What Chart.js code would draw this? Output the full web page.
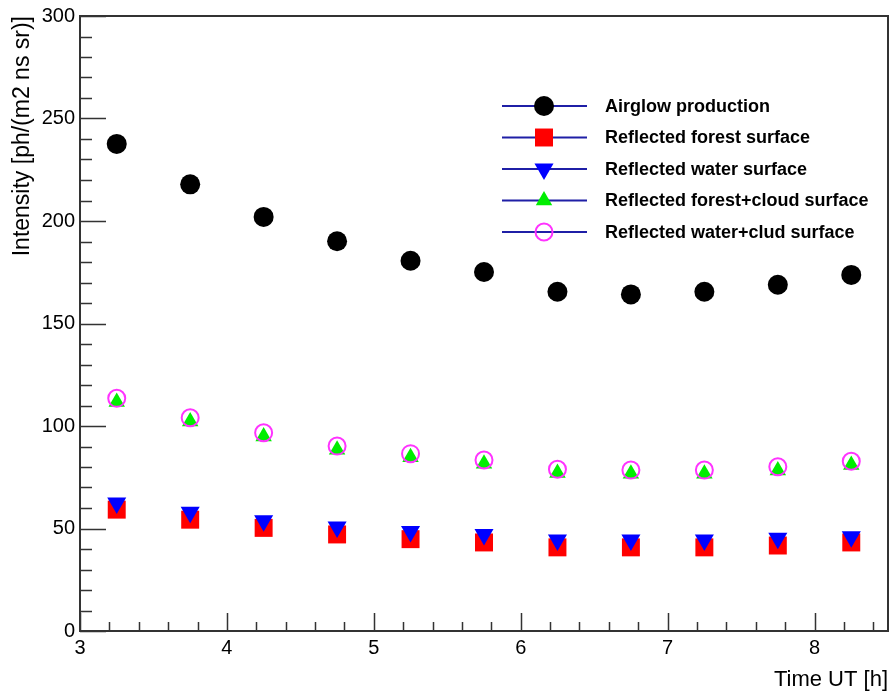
<!DOCTYPE html>
<html>
<head>
<meta charset="utf-8">
<script src="https://cdn.jsdelivr.net/npm/chart.js@4/dist/chart.umd.min.js"></script>
<style>
  html, body { margin: 0; padding: 0; background: #fff; overflow: hidden; }
  canvas { display: block; }
</style>
</head>
<body>
<canvas id="plot" width="893" height="691"></canvas>
<script>
// Data (time in hours UT, intensity in ph/(m2 ns sr))
const timeUT = [3.25, 3.75, 4.25, 4.75, 5.25, 5.75, 6.25, 6.75, 7.25, 7.75, 8.25];
const airglow = [237.6, 217.9, 202.0, 190.1, 180.6, 175.1, 165.5, 164.2, 165.5, 168.9, 173.7];
const forest = [59.2, 54.3, 50.3, 47.1, 44.8, 43.2, 40.8, 40.8, 40.8, 41.7, 43.2];
const water = [62.5, 57.9, 53.8, 50.7, 48.5, 47.1, 44.4, 44.4, 44.4, 45.3, 46.0];
const forestCloud = [111.7, 102.2, 94.9, 88.4, 84.7, 81.6, 77.1, 76.7, 76.7, 78.3, 81.0];
const waterCloud = [113.5, 104.0, 96.7, 90.2, 86.5, 83.4, 78.9, 78.5, 78.5, 80.1, 82.8];

const xTicks = [3, 4, 5, 6, 7, 8];
const yTicks = [0, 50, 100, 150, 200, 250, 300];

const labels = [
    'Airglow production',
    'Reflected forest surface',
    'Reflected water surface',
    'Reflected forest+cloud surface',
    'Reflected water+clud surface'
];

function pts(vals) {
    return timeUT.map((t, i) => ({ x: t, y: vals[i] }));
}

// pas de marge auto autour des axes
const noPad = () => ({ left: 0, top: 0, right: 0, bottom: 0 });

// cadre + graduations (style ROOT)
const frameTicks = {
    id: 'frameTicks',
    afterDraw(chart) {
        const ctx = chart.ctx;
        const a = chart.chartArea;
        const xs = chart.scales.x, ys = chart.scales.y;
        ctx.save();
        ctx.strokeStyle = '#333';
        ctx.lineWidth = 1.5;
        ctx.beginPath();
        // y ticks, inside
        for (let v = 0; v <= 300; v += 10) {
            const y = Math.round(ys.getPixelForValue(v)) + 0.5;
            const len = v % 50 === 0 ? 26 : 12;
            ctx.moveTo(a.left, y);
            ctx.lineTo(a.left + len, y);
        }
        // x ticks, inside
        for (let i = 0; i <= 27; i++) {
            const v = 3 + i * 0.2;
            const x = Math.round(xs.getPixelForValue(v)) + 0.5;
            const len = i % 5 === 0 ? 18 : 9;
            ctx.moveTo(x, a.bottom);
            ctx.lineTo(x, a.bottom - len);
        }
        ctx.stroke();
        ctx.lineWidth = 2;
        ctx.strokeRect(a.left, a.top, a.right - a.left, a.bottom - a.top);
        ctx.restore();
    }
};

// legende
const legendBox = {
    id: 'legendBox',
    afterDraw(chart) {
        const ctx = chart.ctx;
        chart.data.datasets.forEach((ds, i) => {
            const y = 106 + i * 31.5;
            ctx.save();
            ctx.strokeStyle = '#1f1fa6';
            ctx.lineWidth = 2;
            ctx.beginPath();
            ctx.moveTo(502, y);
            ctx.lineTo(587, y);
            ctx.stroke();
            ctx.fillStyle = ds.backgroundColor;
            ctx.strokeStyle = ds.borderColor;
            ctx.lineWidth = ds.borderWidth;
            Chart.helpers.drawPoint(ctx, {
                pointStyle: ds.pointStyle,
                rotation: ds.rotation || 0,
                radius: ds.pointRadius,
                borderWidth: ds.borderWidth
            }, 544, y);
            ctx.fillStyle = '#000';
            ctx.font = 'bold 18px "Liberation Sans", Arial, sans-serif';
            ctx.textBaseline = 'middle';
            ctx.textAlign = 'left';
            ctx.fillText(ds.label, 605, y + 1);
            ctx.restore();
        });
    }
};

new Chart(document.getElementById('plot'), {
    type: 'scatter',
    data: {
        datasets: [
            {
                label: labels[0], data: pts(airglow), order: 5,
                pointStyle: 'circle', pointRadius: 10,
                backgroundColor: '#000', borderColor: '#000', borderWidth: 0
            },
            {
                label: labels[1], data: pts(forest), order: 4,
                pointStyle: 'rect', pointRadius: 12.7,
                backgroundColor: '#ff0000', borderColor: '#ff0000', borderWidth: 0
            },
            {
                label: labels[2], data: pts(water), order: 3,
                pointStyle: 'triangle', rotation: 180, pointRotation: 180, pointRadius: 11,
                backgroundColor: '#0000ff', borderColor: '#0000ff', borderWidth: 0
            },
            {
                label: labels[3], data: pts(forestCloud), order: 2,
                pointStyle: 'triangle', pointRadius: 9.5,
                backgroundColor: '#00ee00', borderColor: '#00ee00', borderWidth: 0
            },
            {
                label: labels[4], data: pts(waterCloud), order: 1,
                pointStyle: 'circle', pointRadius: 8.5,
                backgroundColor: 'rgba(0,0,0,0)', borderColor: '#ff33ff', borderWidth: 2
            }
        ]
    },
    options: {
        responsive: false,
        animation: false,
        events: [],
        devicePixelRatio: 1,
        layout: { autoPadding: false, padding: { top: 16, right: 5, left: 0, bottom: 0 } },
        plugins: { legend: { display: false }, tooltip: { enabled: false } },
        scales: {
            x: {
                type: 'linear', min: 3, max: 8.5,
                afterBuildTicks: s => { s.ticks = xTicks.map(v => ({ value: v })); },
                afterFit: s => {
                    s.height = 60;
                    s.paddingRight = 0; s.paddingLeft = 0;
                    s.getPadding = noPad;
                },
                grid: { display: false, drawTicks: false },
                border: { display: false },
                ticks: {
                    color: '#000', padding: 5,
                    font: { family: '"Liberation Sans", Arial, sans-serif', size: 20 }
                },
                title: {
                    display: true, text: 'Time UT [h]', align: 'end', color: '#000',
                    padding: { top: 0, bottom: -2 },
                    font: { family: '"Liberation Sans", Arial, sans-serif', size: 22 }
                }
            },
            y: {
                type: 'linear', min: 0, max: 300,
                afterBuildTicks: s => { s.ticks = yTicks.map(v => ({ value: v })); },
                afterFit: s => {
                    s.width = 80;
                    s.getPadding = noPad;
                },
                grid: { display: false, drawTicks: false },
                border: { display: false },
                ticks: {
                    color: '#000', padding: 5,
                    font: { family: '"Liberation Sans", Arial, sans-serif', size: 20 }
                },
                title: {
                    display: true, text: 'Intensity [ph/(m2 ns sr)]', align: 'end', color: '#000',
                    padding: { top: 9, bottom: 0 },
                    font: { family: '"Liberation Sans", Arial, sans-serif', size: 23 }
                }
            }
        }
    },
    plugins: [frameTicks, legendBox]
});
</script>
</body>
</html>
